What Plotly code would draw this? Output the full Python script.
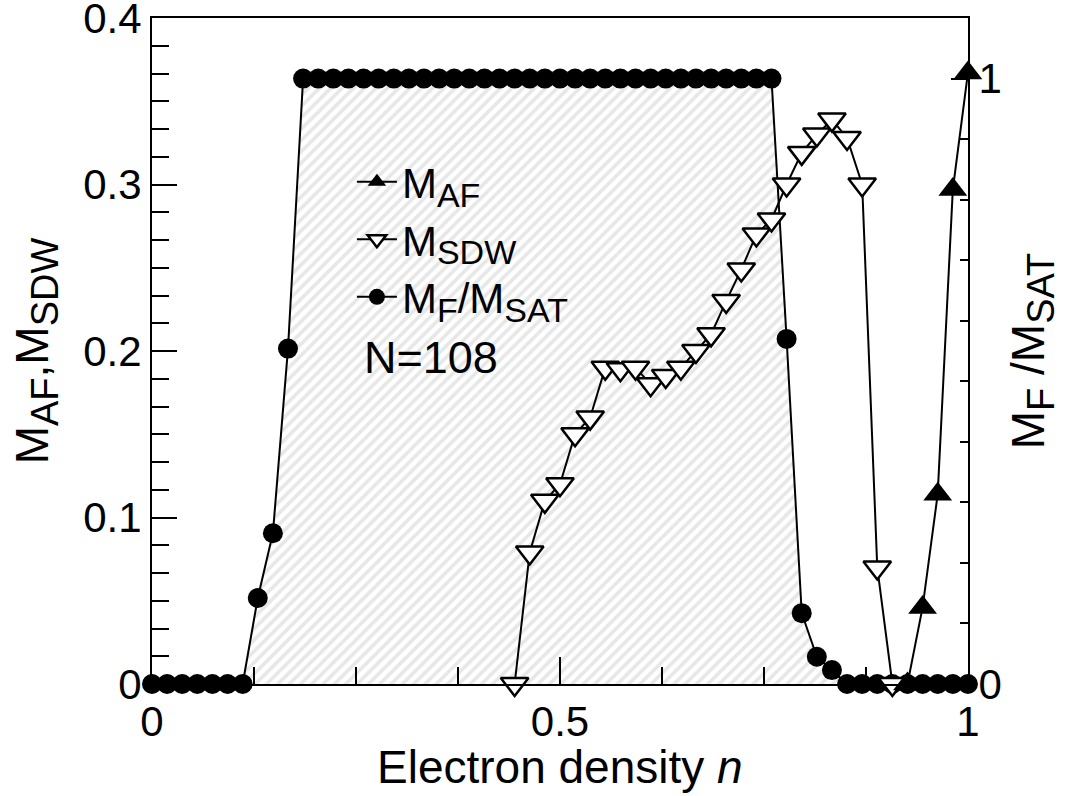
import plotly.graph_objects as go

N = 108
FONT = "Liberation Sans, Arial, sans-serif"

# Electron numbers and values
ne_mf = [0, 2, 4, 6, 8, 10, 12, 14, 16, 18, 20, 22, 24, 26, 28, 30, 32, 34, 36, 38,
         40, 42, 44, 46, 48, 50, 52, 54, 56, 58, 60, 62, 64, 66, 68, 70, 72, 74, 76, 78,
         80, 82, 84, 86, 88, 90, 92, 94, 96, 98, 100, 102, 104, 106, 108]
mf = [0, 0, 0, 0, 0, 0, 0, 0.142, 0.249, 0.554, 1, 1, 1, 1, 1, 1, 1, 1, 1, 1,
      1, 1, 1, 1, 1, 1, 1, 1, 1, 1, 1, 1, 1, 1, 1, 1, 1, 1, 1, 1,
      1, 1, 0.57, 0.117, 0.045, 0.023, 0, 0, 0, 0, 0, 0, 0, 0, 0]

ne_sdw = [48, 50, 52, 54, 56, 58, 60, 62, 64, 66, 68, 70, 72, 74, 76, 78, 80, 82,
          84, 86, 88, 90, 92, 94, 96, 98]
sdw = [0.0, 0.079, 0.110, 0.120, 0.150, 0.160, 0.190, 0.189, 0.190, 0.180, 0.185,
       0.190, 0.200, 0.210, 0.230, 0.249, 0.270, 0.279, 0.300, 0.319, 0.330, 0.339,
       0.328, 0.300, 0.070, 0.0]

ne_af = [100, 102, 104, 106, 108]
af = [0.0, 0.046, 0.114, 0.297, 0.367]

left_ticks = [0, 0.1, 0.2, 0.3, 0.4]
left_labels = ["0", "0.1", "0.2", "0.3", "0.4"]
right_ticks = [0, 1]
right_labels = ["0", "1"]
x_ticks = [0, 0.5, 1]
x_labels = ["0", "0.5", "1"]

n_mf = [v / N for v in ne_mf]
n_sdw = [v / N for v in ne_sdw]
n_af = [v / N for v in ne_af]


def sub(text, size):
    return "<sub><span style='font-size:%dpx'>%s</span></sub>" % (size, text)


fig = go.Figure()

# hatched area under M_F / M_SAT
fig.add_trace(go.Scatter(
    x=n_mf, y=mf, yaxis="y", mode="lines", line=dict(width=0, color="rgba(0,0,0,0)"),
    fill="tozeroy", fillcolor="white",
    fillpattern=dict(shape="/", fgcolor="#cfcfcf", bgcolor="white", size=8, solidity=0.45),
    showlegend=False, hoverinfo="skip"))

fig.add_trace(go.Scatter(
    x=n_mf, y=mf, yaxis="y", mode="lines+markers", name="M" + sub("F", 34) + "/M" + sub("SAT", 34),
    line=dict(color="black", width=2),
    marker=dict(symbol="circle", size=20, color="black"),
    cliponaxis=False, legendrank=3))

fig.add_trace(go.Scatter(
    x=n_sdw, y=sdw, yaxis="y2", mode="lines+markers", name="M" + sub("SDW", 34),
    line=dict(color="black", width=2),
    marker=dict(symbol="triangle-down", size=24, color="white",
                line=dict(color="black", width=2.5)),
    cliponaxis=False, legendrank=2))

fig.add_trace(go.Scatter(
    x=n_af, y=af, yaxis="y2", mode="lines+markers", name="M" + sub("AF", 34),
    line=dict(color="black", width=2),
    marker=dict(symbol="triangle-up", size=25, color="black"),
    cliponaxis=False, legendrank=1))

fig.add_annotation(text="N=108", x=0.342, y=0.49, xref="paper", yref="paper",
                   showarrow=False, font=dict(size=45, family=FONT, color="black"))

# x-axis title placed as an annotation for exact vertical position
fig.add_annotation(text="Electron density <i>n</i>", x=0.5, y=-0.125, xref="paper", yref="paper",
                   xanchor="center", yanchor="middle", showarrow=False,
                   font=dict(size=46, family=FONT, color="black"))

fig.update_layout(
    width=1074, height=796,
    margin=dict(l=152, r=106, t=18, b=112, autoexpand=False),
    paper_bgcolor="white", plot_bgcolor="white",
    font=dict(family=FONT, color="black"),
    showlegend=True,
    legend=dict(x=0.245, y=0.805, xanchor="left", yanchor="top",
                bgcolor="rgba(0,0,0,0)", font=dict(size=42, family=FONT),
                tracegroupgap=0, itemwidth=40),
    xaxis=dict(range=[0, 1.0001], tickvals=x_ticks, ticktext=x_labels,
               ticks="inside", ticklen=27, tickwidth=1.5, tickcolor="black",
               showline=True, linewidth=2, linecolor="black", mirror=True,
               showgrid=False, zeroline=False, ticklabeloverflow="allow", automargin=False,
               minor=dict(dtick=0.125, ticks="inside", ticklen=17, tickwidth=1.5,
                          tickcolor="black", showgrid=False),
               tickfont=dict(size=42, family=FONT)),
    yaxis=dict(side="right", range=[0, 1.1001], tickvals=right_ticks, ticktext=right_labels,
               ticks="inside", ticklen=17, tickwidth=1.5, tickcolor="black",
               showline=True, linewidth=2, linecolor="black",
               showgrid=False, zeroline=False, ticklabeloverflow="allow", automargin=False,
               minor=dict(dtick=0.1, ticks="inside", ticklen=8, tickwidth=1.5,
                          tickcolor="black", showgrid=False),
               tickfont=dict(size=42, family=FONT),
               title=dict(text="M" + sub("F", 38) + " /M" + sub("SAT", 38),
                          font=dict(size=46, family=FONT), standoff=11)),
    yaxis2=dict(overlaying="y", side="left", range=[0, 0.40001],
                tickvals=left_ticks, ticktext=left_labels,
                ticks="inside", ticklen=25, tickwidth=1.5, tickcolor="black",
                showline=True, linewidth=2, linecolor="black",
                showgrid=False, zeroline=False, ticklabeloverflow="allow", automargin=False,
                minor=dict(dtick=0.1 / 6, ticks="inside", ticklen=17, tickwidth=1.5,
                           tickcolor="black", showgrid=False),
                tickfont=dict(size=42, family=FONT),
                title=dict(text="M" + sub("AF", 38) + ",M" + sub("SDW", 38),
                           font=dict(size=46, family=FONT), standoff=20)),
)

fig.write_html("out.html")
